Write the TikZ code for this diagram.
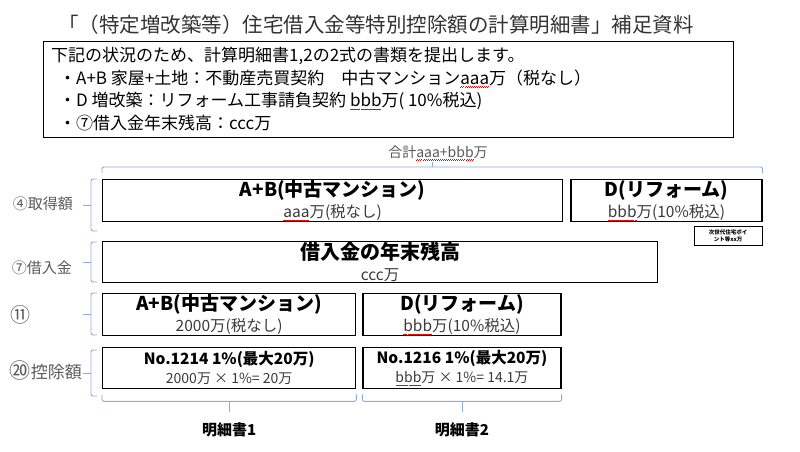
\documentclass[tikz,border=0pt]{standalone}
\usepackage{fontspec}
\setmainfont{Noto Sans CJK JP}
\usetikzlibrary{positioning}
\usetikzlibrary{calc}

\definecolor{bracecol}{HTML}{8FAADC}
\definecolor{labgray}{HTML}{595959}
\definecolor{subgray}{HTML}{3A3A3A}

\newsavebox\spellbox
\newcommand\spell[1]{\sbox\spellbox{#1}\rlap{\color{red}\hbox to\wd\spellbox{\xleaders\hbox{\rule[-3pt]{1pt}{0.45pt}\rule[-2.4pt]{1pt}{0.45pt}}\hfill}}\usebox\spellbox}
\newcommand\hd[2][19]{{\bfseries\fontsize{#1}{#1}\selectfont #2}}
\newcommand\subtxt[2][15.5]{{\color{subgray}\fontsize{#1}{#1}\selectfont #2}}

\begin{document}
\begin{tikzpicture}[x=1pt,y=-1pt]
  \tikzstyle{box}=[draw, line width=1.3pt, inner sep=0pt, align=center, font=\fontsize{15}{21}\selectfont]
  \tikzstyle{brace}=[draw=bracecol, line width=0.9pt, rounded corners=2pt]
  \tikzstyle{lab}=[inner sep=0pt, text=labgray, font=\fontsize{15}{18}\selectfont]
  \useasboundingbox (0,0) rectangle (800,451);

  \node[text=black!80, font=\fontsize{20.5}{24}\selectfont] (title) at (376,25) {「（特定増改築等）住宅借入金等特別控除額の計算明細書」補足資料};
  \node[draw, line width=1.3pt, minimum width=690pt, minimum height=96pt, anchor=north west] (info) at (43,41) {};
  \node[anchor=north west, inner sep=0pt, align=left, font=\fontsize{17}{22.5}\selectfont] (infotext) at ($(info.north west)+(8,6)$) {下記の状況のため、計算明細書1,2の2式の書類を提出します。\\
    \hspace*{8pt}・A+B 家屋+土地：不動産売買契約　中古マンション\spell{aaa}万（税なし）\\
    \hspace*{8pt}・D 増改築：リフォーム工事請負契約 \spell{bbb}万( 10\%税込)\\
    \hspace*{8pt}・⑦借入金年末残高：ccc万};
  \node[font=\fontsize{14}{16}\selectfont, text=labgray, inner sep=0pt] (total) at (438,153) {合計\spell{aaa+bbb}万};

  % rows
  \node[box, minimum width=460pt, minimum height=42pt, anchor=north west] (ab1) at (102,179) {\hd{A+B(中古マンション)}\\\subtxt{\spell{aaa}万(税なし)}};
  \node[box, minimum width=191pt, minimum height=42pt, right=7pt of ab1] (d1) {\hd{D(リフォーム)}\\\subtxt{\spell{bbb}万(10\%税込)}};
  \node[draw, line width=1pt, minimum width=68pt, minimum height=19pt, inner sep=0pt, align=center, anchor=north east, font=\bfseries\fontsize{5.5}{7}\selectfont] (note) at ($(d1.south east)+(0,4)$) {次世代住宅ポイ\\ント等xx万};
  \node[box, minimum width=555pt, minimum height=41pt, anchor=north west] (loan) at (102,241) {\hd[20]{借入金の年末残高}\\\subtxt{ccc万}};
  \node[box, minimum width=253pt, minimum height=42pt, anchor=north west] (ab3) at (102,293) {\hd{A+B(中古マンション)}\\\subtxt{2000万(税なし)}};
  \node[box, minimum width=198pt, minimum height=42pt, right=6pt of ab3] (d3) {\hd{D(リフォーム)}\\\subtxt{\spell{bbb}万(10\%税込)}};
  \node[box, minimum width=253pt, minimum height=41pt, anchor=north west, font=\fontsize{14}{19}\selectfont] (ab4) at (102,347) {\hd[15.5]{No.1214 1\%(最大20万)}\\\subtxt[14]{2000万 × 1\%= 20万}};
  \node[box, minimum width=198pt, minimum height=41pt, font=\fontsize{14}{19}\selectfont, right=6pt of ab4] (d4) {\hd[15.5]{No.1216 1\%(最大20万)}\\\subtxt[14]{\spell{bbb}万 × 1\%= 14.1万}};

  % labels on the left
  \node[lab, anchor=east] (acq) at (73,204) {④取得額};
  \node[lab, anchor=east] (debt) at (72,268) {⑦借入金};
  \node[lab, anchor=west, font=\fontsize{20}{20}\selectfont] (eleven) at (10,315) {⑪};
  \node[lab, anchor=east, font=\fontsize{17}{20}\selectfont] (deduct) at (82,371) {{\fontsize{21}{20}\selectfont ⑳}控除額};

  % braces
  \draw[brace] ($(ab1.north west)+(0,-6)$) -- ($(ab1.north west)+(0,-12)$) -- ($(d1.north east)+(0,-12)$) -- ($(d1.north east)+(0,-6)$);
  \draw[brace] ($(ab1.north west)!.5!(d1.north east)+(0,-12)$) -- +(0,-5);
  \foreach \t/\b in {179/231, 242/282, 293/335, 350/396} {
    \draw[brace] (97,\t) -- (91,\t) -- (91,\b) -- (97,\b);
    \draw[brace] (91,{(\t+\b)/2}) -- (83,{(\t+\b)/2});
  }
  \foreach \n in {ab4,d4} {
    \draw[brace] ($(\n.south west)+(0,5)$) -- ($(\n.south west)+(0,12)$) -- ($(\n.south east)+(0,12)$) -- ($(\n.south east)+(0,5)$);
    \draw[brace] ($(\n.south)+(0,12)$) -- +(0,11);
  }

  \node[inner sep=0pt, font=\bfseries\fontsize{15}{18}\selectfont, below=33pt of ab4] (sheet1) {明細書1};
  \node[inner sep=0pt, font=\bfseries\fontsize{15}{18}\selectfont, below=33pt of d4] (sheet2) {明細書2};
\end{tikzpicture}
\end{document}
